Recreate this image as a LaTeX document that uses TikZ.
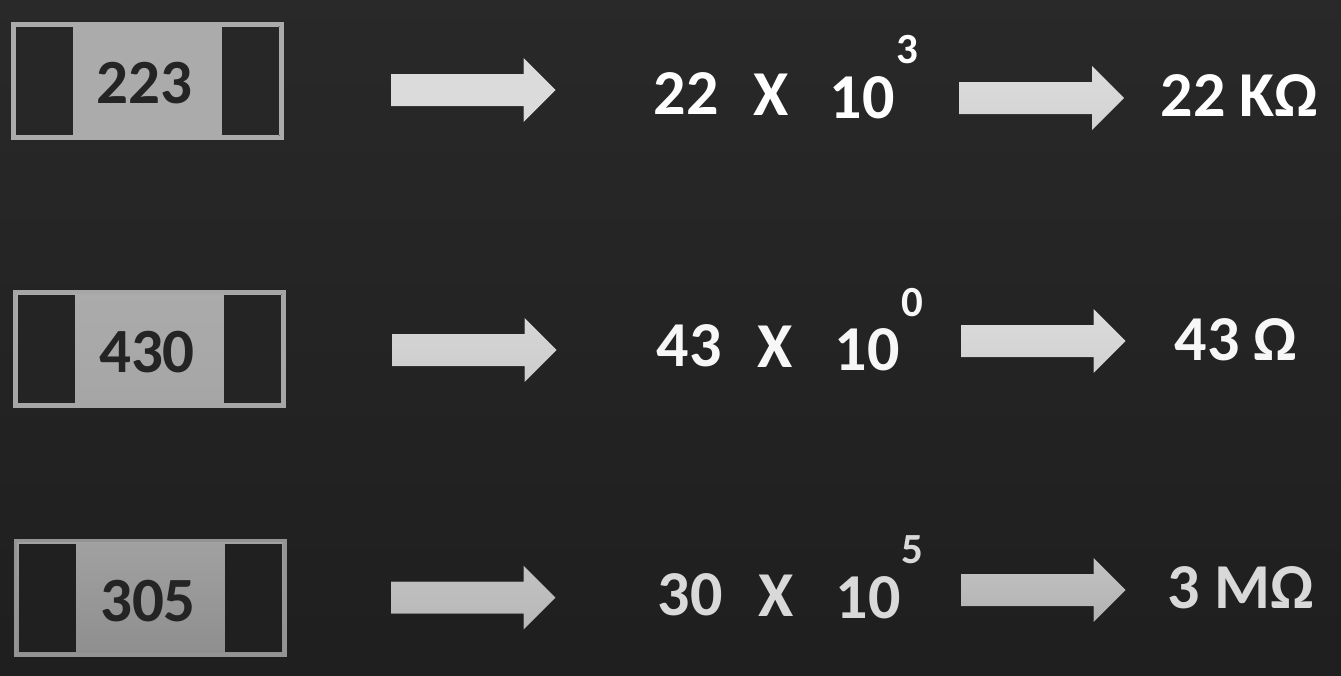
\documentclass[tikz,border=0pt]{standalone}
\usepackage{fontspec}
\setmainfont{Carlito}[BoldFont={* Bold}]
\definecolor{padA}{HTML}{272727}
\definecolor{padB}{HTML}{242424}
\definecolor{padC}{HTML}{202020}
\definecolor{ink}{HTML}{242424}
\tikzset{x=1pt,y=-1pt,
 lab/.style={font=\bfseries\fontsize{#1}{#1}\selectfont,inner sep=0pt,anchor=center},
 lab/.default=64,
}
% #1 x left, #2 x right, #3 y top, #4 y bottom, #5 name, #6 pad colour, #7 body top, #8 body bottom, #9 frame colour
\newcommand{\chipbox}[9]{%
 \fill[#9] (#1,#3) rectangle (#2,#4);
 \fill[top color=#7,bottom color=#8] (#1+4,#3+4) rectangle (#2-4,#4-4);
 \fill[#6] (#1+5,#3+5) rectangle (#1+62,#4-5);
 \fill[#6] (#2-62,#3+5) rectangle (#2-5,#4-5);
 \coordinate (#5) at ({(#1+#2)/2},{(#3+#4)/2});
}
% #1 name,#2 x0,#3 x1,#4 y center,#5 top colour,#6 bottom colour
\newcommand{\fatarrow}[6]{%
 \coordinate (#1) at (#2,#4);
 \fill[top color=#5,bottom color=#6] (#2,#4-16) -- (#3-32,#4-16) -- (#3-32,#4-32) -- (#3,#4) -- (#3-32,#4+32) -- (#3-32,#4+16) -- (#2,#4+16) -- cycle;
}
\begin{document}
\begin{tikzpicture}
\useasboundingbox (0,0) rectangle (1341,675);
\fill[top color=black!84,bottom color=black!88] (0,0) rectangle (1341,675);
\chipbox{10.5}{283.5}{22}{139.5}{c1}{padA}{black!33}{black!33}{black!33}
\chipbox{12.5}{285.5}{290}{408}{c2}{padB}{black!33}{black!35}{black!35}
\chipbox{13.5}{287}{538.5}{656.5}{c3}{padC}{black!37}{black!44}{black!42}
\node[lab=63,text=ink] (c1t) at (144.5,83) {223};
\node[lab=63,text=ink] (c2t) at (147,352) {430};
\node[lab=63,text=ink] (c3t) at (148,601) {305};
\fatarrow{a1}{391}{555.5}{90}{white!86!black}{white!86!black}
\fatarrow{a2}{959}{1124}{98}{white!86!black}{white!83!black}
\fatarrow{a3}{392}{556.5}{350}{white!84!black}{white!80!black}
\fatarrow{a4}{961}{1125.5}{341}{white!86!black}{white!82!black}
\fatarrow{a5}{391}{555.5}{597.5}{white!76!black}{white!72!black}
\fatarrow{a6}{961}{1125.5}{590}{white!76!black}{white!70!black}
\node[lab,text=white] (t1) at (686,94) {22};
\node[lab,text=white] (x1) at (771,95) {X};
\node[lab,text=white] (p1) at (862,98) {10};
\node[lab=43,text=white] (e1) at (907,50) {3};
\node[lab,text=white] (r1) at (1239.5,96) {22 KΩ};
\node[lab,text=white!97!black] (t2) at (689,346) {43};
\node[lab,text=white!97!black] (x2) at (775,347) {X};
\node[lab,text=white!97!black] (p2) at (867,350) {10};
\node[lab=43,text=white!97!black] (e2) at (912,303) {0};
\node[lab,text=white!97!black] (r2) at (1236,340) {43 Ω};
\node[lab,text=white!85!black] (t3) at (690,595) {30};
\node[lab,text=white!85!black] (x3) at (776,596) {X};
\node[lab,text=white!85!black] (p3) at (868,598) {10};
\node[lab=43,text=white!85!black] (e3) at (912,550) {5};
\node[lab,text=white!85!black] (r3) at (1241,588) {3 MΩ};
\end{tikzpicture}
\end{document}
